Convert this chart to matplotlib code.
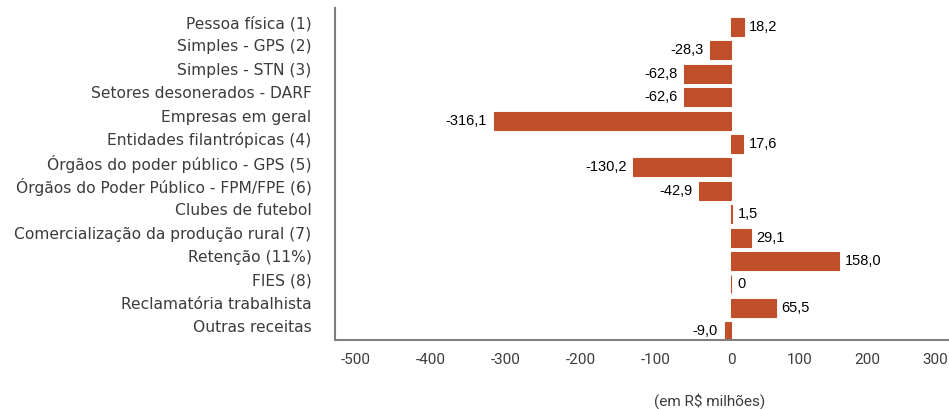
import numpy as np
import matplotlib
matplotlib.use("Agg")
import matplotlib.pyplot as plt
from matplotlib.transforms import ScaledTranslation

categories = [
    "Pessoa física (1)",
    "Simples - GPS (2)",
    "Simples - STN (3)",
    "Setores desonerados - DARF",
    "Empresas em geral",
    "Entidades filantrópicas (4)",
    "Órgãos do poder público - GPS (5)",
    "Órgãos do Poder Público - FPM/FPE (6)",
    "Clubes de futebol",
    "Comercialização da produção rural (7)",
    "Retenção (11%)",
    "FIES (8)",
    "Reclamatória trabalhista",
    "Outras receitas",
]
values = [18.2, -28.3, -62.8, -62.6, -316.1, 17.6, -130.2, -42.9,
          1.5, 29.1, 158.0, 0.0, 65.5, -9.0]
x_ticks = [-500, -400, -300, -200, -100, 0, 100, 200, 300]
x_label = "(em R$ milhões)"

BAR = "#C04F2A"
TXT = "#3c3c3c"
SPINE = "#7f7f7f"
LABEL_FONT = ["DejaVu Sans"]
TICK_FONT = ["Roboto", "DejaVu Sans"]
VALUE_FONT = ["Liberation Sans", "Arial", "DejaVu Sans"]

plt.rcParams["font.family"] = TICK_FONT

# negative side of the axis is drawn slightly stretched
K = 1.106


def fwd(x):
    x = np.asarray(x, dtype=float)
    return np.where(x < 0, x * K, x)


def inv(y):
    y = np.asarray(y, dtype=float)
    return np.where(y < 0, y / K, y)


fig = plt.figure(figsize=(9.49, 4.09), dpi=100)
ax = fig.add_axes([335 / 949, 1 - 340 / 409, 1 - 335 / 949, (340 - 8) / 409])
ax.set_xscale("function", functions=(fwd, inv))

pos = np.arange(len(categories))
ax.barh(pos, values, height=0.77, color=BAR, edgecolor=BAR, linewidth=0.8)

for p, v in zip(pos, values):
    txt = f"{v:.1f}".replace(".", ",") if v != 0 else "0"
    if v < 0:
        ax.annotate(txt, (v, p), xytext=(-5, 0), textcoords="offset points",
                    ha="right", va="center", fontsize=10.5,
                    family=VALUE_FONT, color="black")
    else:
        ax.annotate(txt, (v, p), xytext=(4, 0), textcoords="offset points",
                    ha="left", va="center", fontsize=10.5,
                    family=VALUE_FONT, color="black")

ax.set_xlim(-527, 320)
ax.set_ylim(len(categories) - 1 + 0.38, -0.81)
ax.set_xticks(x_ticks)
ax.set_xticklabels([str(t) for t in x_ticks], fontsize=11, color=TXT,
                   family=TICK_FONT)
ax.set_yticks(pos)
ax.set_yticklabels(categories, fontsize=11.2, color=TXT, family=LABEL_FONT)
ax.tick_params(axis="both", length=0)
ax.tick_params(axis="y", pad=17)
ax.tick_params(axis="x", pad=9)

shift = ScaledTranslation(0, 0.05, fig.dpi_scale_trans)
for lab in ax.get_yticklabels():
    lab.set_transform(lab.get_transform() + shift)

for side in ("top", "right"):
    ax.spines[side].set_visible(False)
for side in ("left", "bottom"):
    ax.spines[side].set_color(SPINE)
    ax.spines[side].set_linewidth(1.5)

fig.text(710 / 949, 1 - 401 / 409, x_label, ha="center", va="center",
         fontsize=11, color=TXT, family=TICK_FONT)

fig.savefig("out.png", dpi=100)
